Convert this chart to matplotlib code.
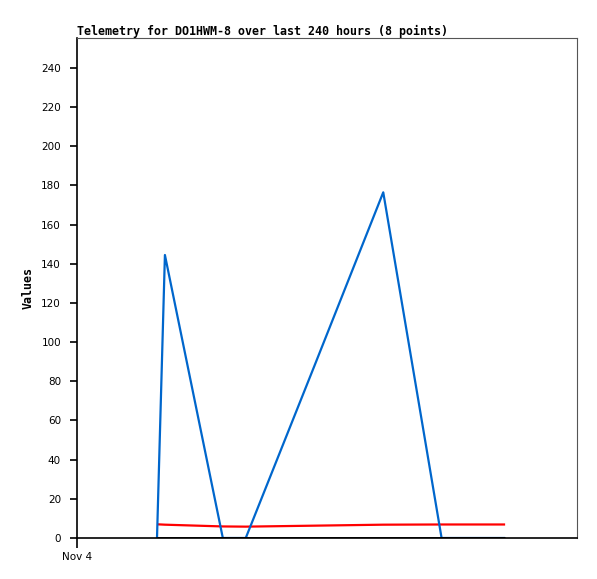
import matplotlib.pyplot as plt

# hours since Nov 4 00:00
hours = [38.4, 42.2, 70.0, 81.0, 114.0, 147.0, 175.0, 205.5]
blue_vals = [0, 144.5, 0, 0, 88, 176.5, 0, 0]
red_vals = [7.0, 6.8, 5.9, 5.8, 6.3, 6.8, 6.9, 6.9]
black_vals = [0, 0, 0, 0, 0, 0, 0, 0]

y_ticks = list(range(0, 241, 20))
x_ticks = [0]
x_labels = ["Nov 4"]

fig = plt.figure(figsize=(5.97, 5.79), dpi=100)
ax = fig.add_axes([77 / 597, 1 - 538 / 579, 500 / 597, 500 / 579])

ax.plot(hours, red_vals, color="#ff0000", linewidth=1.6, solid_capstyle="butt")
ax.plot(hours, blue_vals, color="#0066cc", linewidth=1.6, solid_capstyle="butt")
ax.plot(hours, black_vals, color="black", linewidth=2.0, solid_capstyle="butt")

ax.set_xlim(0, 240)
ax.set_ylim(0, 255.3)
ax.set_yticks(y_ticks)
ax.set_xticks(x_ticks)
ax.set_xticklabels(x_labels)
ax.tick_params(axis="both", direction="out", length=5, width=1.2,
               labelsize=7.5, colors="black", pad=6.5)
ax.tick_params(axis="x", pad=3, length=7)

ax.spines["left"].set_color("black")
ax.spines["bottom"].set_color("black")
ax.spines["left"].set_linewidth(1.2)
ax.spines["bottom"].set_linewidth(1.2)
ax.spines["top"].set_color("#555555")
ax.spines["right"].set_color("#555555")

ax.set_title("Telemetry for DO1HWM-8 over last 240 hours (8 points)",
             loc="left", fontsize=8.4, fontweight="bold",
             family="DejaVu Sans Mono", pad=2)
ax.set_ylabel("Values", fontsize=8.4, fontweight="bold",
              family="DejaVu Sans Mono", labelpad=5)

fig.savefig("out.png", dpi=100)
